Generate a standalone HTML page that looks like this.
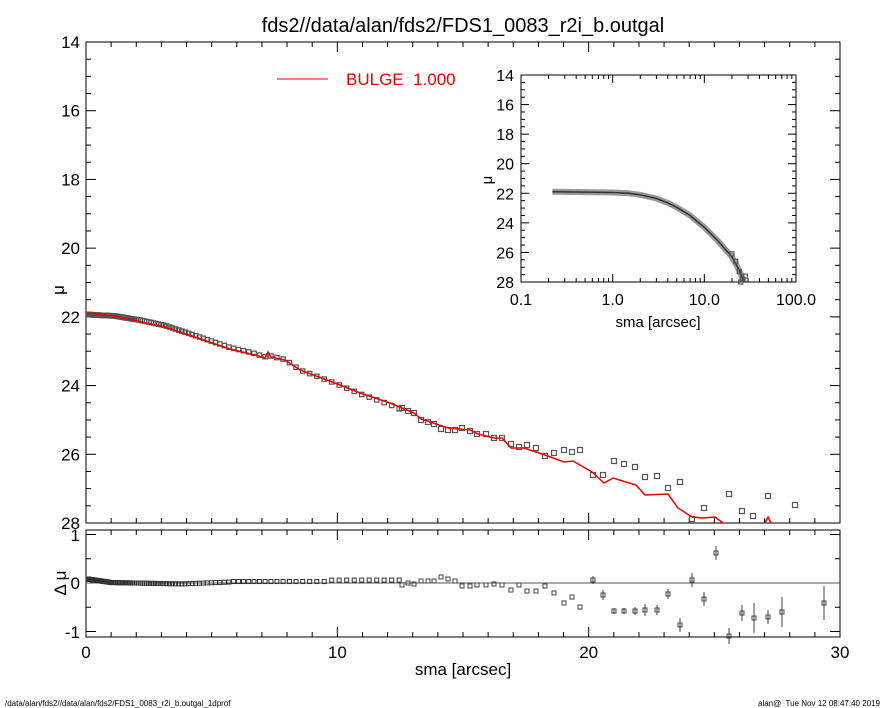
<!DOCTYPE html>
<html><head><meta charset="utf-8"><style>
body{margin:0;background:#fff}
svg{display:block;font-family:"Liberation Sans",sans-serif}
</style></head><body>
<svg id="s" width="885" height="708" viewBox="0 0 885 708" xmlns="http://www.w3.org/2000/svg">
<rect width="885" height="708" fill="#fff"/>
<text x="463" y="32" font-size="20" text-anchor="middle">fds2//data/alan/fds2/FDS1_0083_r2i_b.outgal</text>
<g id="g"></g>
<line x1="277" y1="79" x2="328" y2="79" stroke="#e00" stroke-width="1"/>
<text x="346" y="85" font-size="17" fill="#e00">BULGE&#160; 1.000</text>
<text x="64" y="290" font-size="17" transform="rotate(-90 64 290)" text-anchor="middle">μ</text>
<text x="66" y="583" font-size="17" transform="rotate(-90 66 583)" text-anchor="middle">Δ μ</text>
<text x="463" y="675" font-size="17" text-anchor="middle">sma [arcsec]</text>
<text x="5" y="706" font-size="8">/data/alan/fds2//data/alan/fds2/FDS1_0083_r2i_b.outgal_1dprof</text>
<text x="880" y="706" font-size="8" text-anchor="end">alan@&#160; Tue Nov 12 08:47:40 2019</text>
<text x="492" y="180" font-size="15" transform="rotate(-90 492 180)" text-anchor="middle">μ</text>
<text x="658" y="327" font-size="15" text-anchor="middle">sma [arcsec]</text>
</svg>
<script>
var g=document.getElementById('g'),h='';
function L(a,b,c,d,col,w){h+='<line x1="'+a+'" y1="'+b+'" x2="'+c+'" y2="'+d+'" stroke="'+(col||'#000')+'" stroke-width="'+(w||1)+'"/>';}
function T(x,y,t,s,a){h+='<text x="'+x+'" y="'+y+'" font-size="'+s+'" text-anchor="'+(a||'middle')+'">'+t+'</text>';}
function sq(x,y,s){s=s||2.5;h+='<rect x="'+(x-s)+'" y="'+(y-s)+'" width="'+2*s+'" height="'+2*s+'" fill="none" stroke="#555" stroke-width="1.2"/>';}
var X0=86,X1=840,Y0=42,Y1=523;
function mx(r){return X0+r*(X1-X0)/30}
function my(m){return Y0+(m-14)*(Y1-Y0)/14}
h+='<rect x="86" y="42" width="754" height="481" fill="none" stroke="#000"/>';
h+='<rect x="86" y="530" width="754" height="107" fill="none" stroke="#000"/>';
for(var r=0;r<=30;r++){var x=mx(r),l=r%10?5:10;L(x,Y1,x,Y1-l);L(x,Y0,x,Y0+l);L(x,637,x,637-l);L(x,530,x,530+l);}
for(var m=14;m<=28;m+=0.5){var y=my(m),l=(m%2==0)?10:5;L(X0,y,X0+l,y);L(X1,y,X1-l,y);if(m%2==0)T(80,y+6,m,17,'end');}
[0,10,20,30].forEach(function(r){T(mx(r),658,r,17)});
function dy(d){return 583-d*48.5}
for(var d=-1;d<=1;d+=0.5){var y=dy(d),l=d%1?5:10;L(X0,y,X0+l,y);L(X1,y,X1-l,y);}
T(80,541,'1',17,'end');T(80,589,'0',17,'end');T(80,638,'-1',17,'end');
L(86,583,840,583,'#555',1);
var red=[[88,313],[96,314],[115,316],[128,319],[165,327],[195,337],[230,349],[255,355],[265,358],[268,352],[271,357],[285,360],[300,370],[340,385],[360,393],[390,403],[402,408],[414,413],[421,419],[448,428],[470,430],[478,434],[494,438],[502,438],[511,448],[524,448],[545,455],[564,462],[573,461],[592,472],[604,483],[613,478],[636,485],[645,495],[668,494],[678,508],[692,517],[703,518],[715,517],[723,523]];
function ry(x){for(var i=0;i<red.length-1;i++)if(x>=red[i][0]&&x<=red[i+1][0]){var a=red[i],b=red[i+1];return a[1]+(b[1]-a[1])*(x-a[0])/(b[0]-a[0]);}return 313;}
function off(x){var k=[[88,1.5],[140,-1.5],[250,-1.5],[300,0],[330,0],[400,2]];for(var i=0;i<k.length-1;i++)if(x>=k[i][0]&&x<=k[i+1][0])return k[i][1]+(k[i+1][1]-k[i][1])*(x-k[i][0])/(k[i+1][0]-k[i][0]);return 0;}
var x=88,st=0.5;
while(x<400){var y=ry(x)+off(x);sq(x,y,2.2);
 var d=x<110?0.08-(x-88)*0.003:(x<180?0.01-(x-110)*0.0004:(x<230?-0.02+(x-180)*0.0008:(x<330?0.03:0.06)));
 h+='<rect x="'+(x-2)+'" y="'+(dy(d)-2)+'" width="4" height="4" fill="none" stroke="#333" stroke-width="1"/>';
 x+=st;st=Math.min(st*1.03,7.5);}
var pts=[[402,408],[408,411],[414,413],[421,420],[428,422],[434,424],[441,429],[448,430],[455,430],[462,428],[470,431],[477,434],[486,434],[494,438],[502,438],[511,444],[519,447],[527,445],[536,448],[545,456],[554,453],[564,450],[572,452],[580,450],[593,475],[603,475],[614,461],[624,464],[635,467],[645,477],[657,476],[668,488],[680,482],[692,519],[704,508],[729,494],[742,511],[753,516],[768,496],[795,505]];
pts.forEach(function(p){sq(p[0],p[1])});
var res=[[402,585,0],[408,583,0],[414,584,0],[421,581,0],[428,581,0],[434,581,0],[441,577,0],[448,579,0],[455,581,0],[462,586,0],[470,586,0],[477,585,0],[486,585,0],[494,584,0],[502,585,0],[511,590,0],[519,585,0],[527,591,0],[536,591,0],[545,586,0],[554,593,0],[564,603,0],[572,597,0],[580,607,0],[593,580,4],[603,595,5],[614,611,3],[624,611,3],[635,611,4],[645,610,6],[657,610,5],[668,594,5],[680,625,7],[692,580,7],[704,599,7],[716,553,7],[729,636,8],[742,613,8],[754,618,15],[768,617,7],[782,612,15],[824,603,17]];
res.forEach(function(p){if(p[2])L(p[0],p[1]-p[2],p[0],p[1]+p[2],'#444');h+='<rect x="'+(p[0]-2)+'" y="'+(p[1]-2)+'" width="4" height="4" fill="none" stroke="#444" stroke-width="1"/>';});
var pl=red.map(function(p){return p.join(',')}).join(' ');
h+='<polyline points="'+pl+'" fill="none" stroke="#e00" stroke-width="1.5"/>';
h+='<polyline points="765,523 768,517 771,523" fill="none" stroke="#e00" stroke-width="1.5"/>';
var IX0=521,IX1=796,IY0=75,IY1=282;
function ix(r){return IX0+(Math.log10(r)+1)*(IX1-IX0)/3}
function iy(m){return IY0+(m-14)*(IY1-IY0)/14}
h+='<rect x="521" y="75" width="275" height="207" fill="#fff" stroke="#000"/>';
for(var dec=-1;dec<2;dec++)for(var k=1;k<10;k++){var xx=ix(k*Math.pow(10,dec)),l=k==1?8:4;L(xx,IY1,xx,IY1-l);L(xx,IY0,xx,IY0+l);}
for(var m=14;m<=28;m+=0.5){var y=iy(m),l=(m%2==0)?8:4;L(IX0,y,IX0+l,y);L(IX1,y,IX1-l,y);if(m%2==0)T(514,y+6,m,16,'end');}
T(ix(0.1),305,'0.1',16);T(ix(1),305,'1.0',16);T(ix(10),305,'10.0',16);T(ix(100),305,'100.0',16);
var cv=[[0.22,21.9],[0.5,21.92],[1,21.95],[1.5,22.0],[2,22.1],[3,22.35],[4,22.65],[5,22.95],[7,23.5],[10,24.3],[14,25.2],[20,26.3],[24,27.2],[27,28]];
var ip=cv.map(function(p){return ix(p[0]).toFixed(1)+','+iy(p[1]).toFixed(1)}).join(' ');
h+='<polyline points="'+ip+'" fill="none" stroke="#999" stroke-width="6" stroke-linejoin="round"/>';
h+='<polyline points="'+ip+'" fill="none" stroke="#333" stroke-width="1.5" stroke-linejoin="round"/>';
[[20,26.1],[22,26.6],[24,27.3],[26,27.8],[28,27.6],[25,28]].forEach(function(p){sq(ix(p[0]),iy(p[1]),2)});
g.innerHTML=h;
</script>
</body></html>
